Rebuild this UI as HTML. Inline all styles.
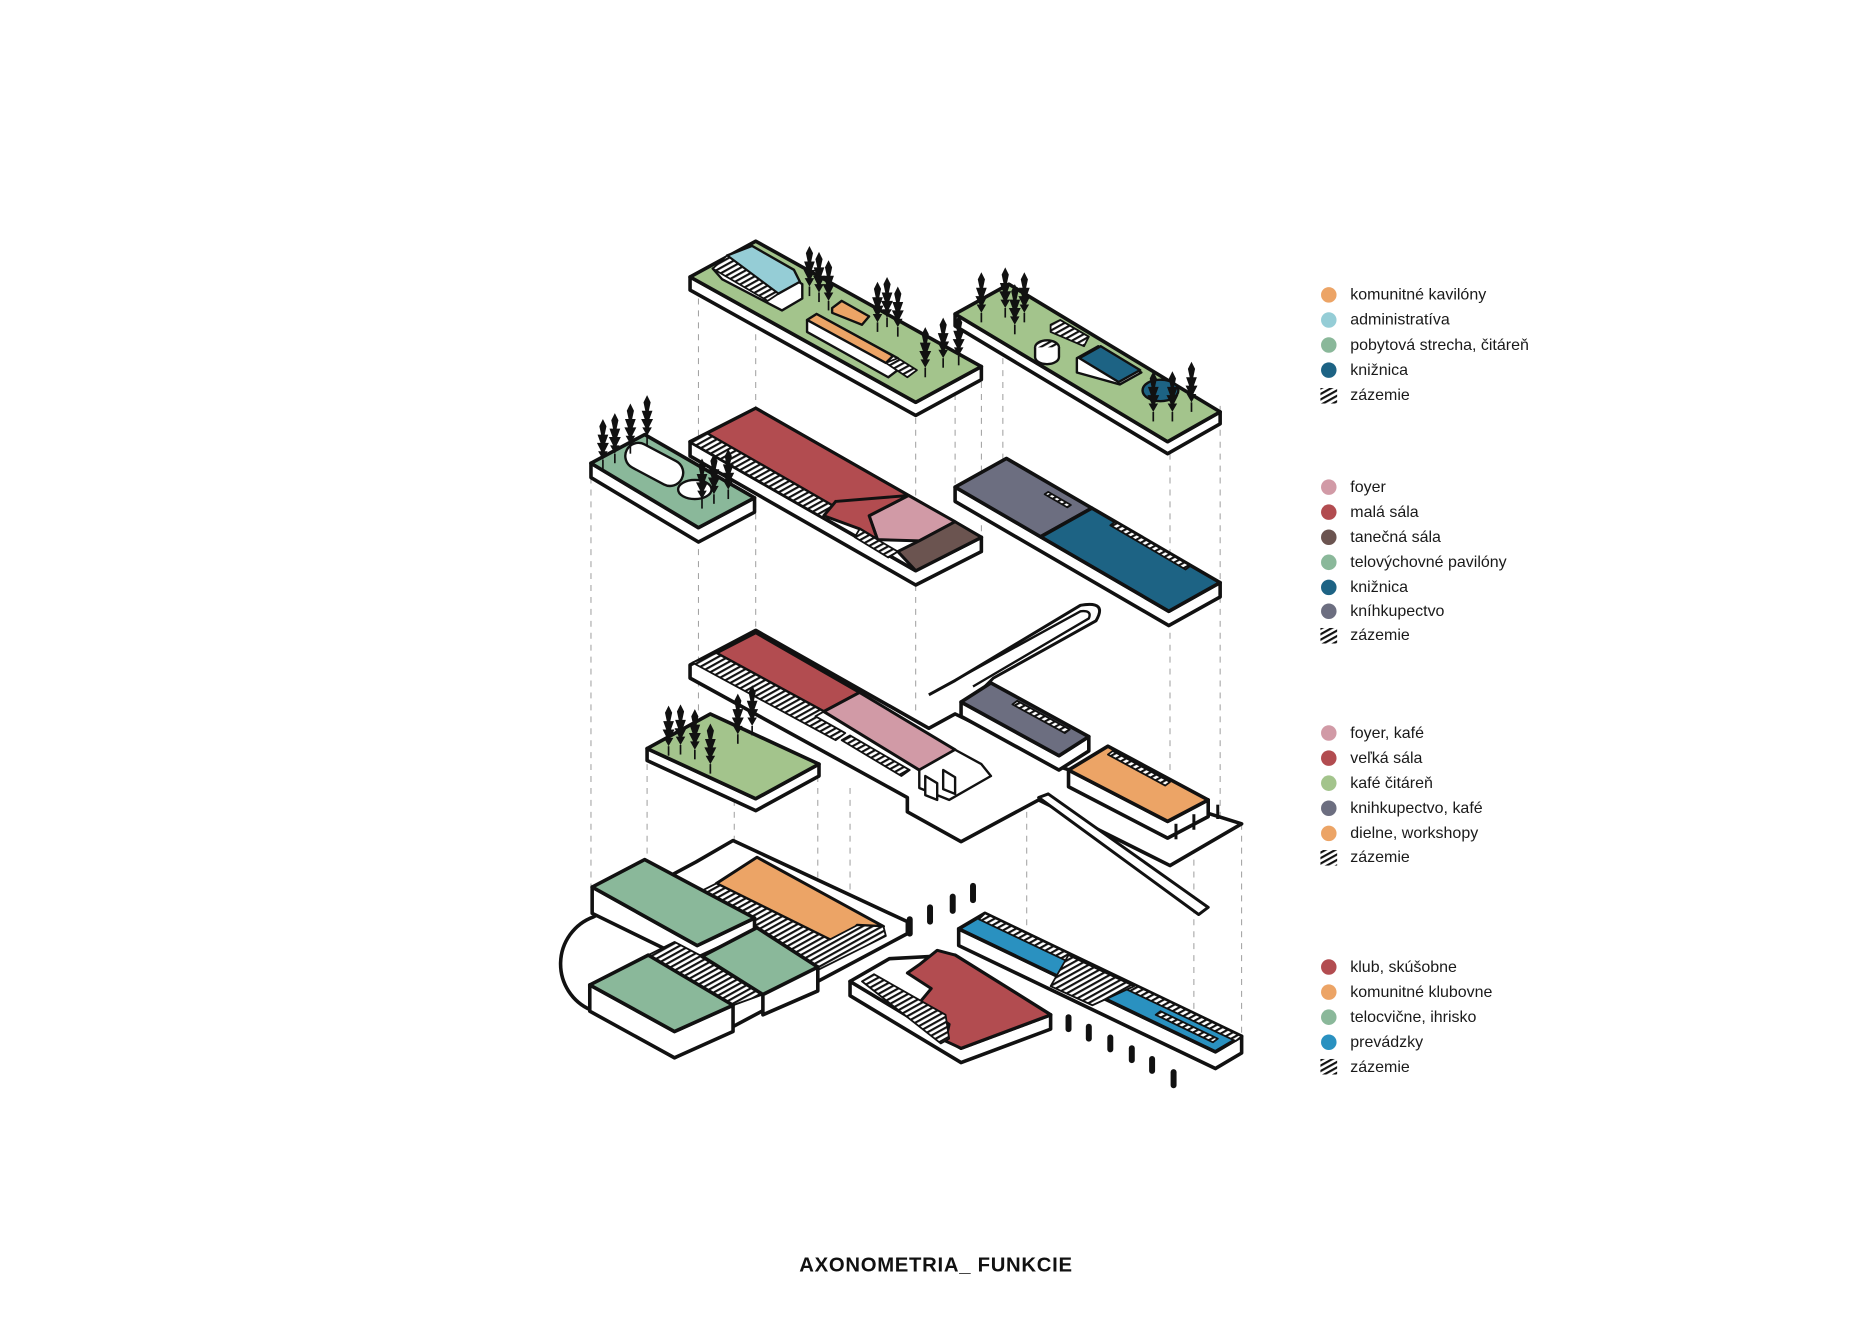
<!DOCTYPE html>
<html><head><meta charset="utf-8"><style>
html,body{margin:0;padding:0;background:#fff;}
svg{display:block;}
.t{font-family:"Liberation Sans",sans-serif;font-size:13.4px;fill:#1a1a1a;}
</style></head><body>
<svg width="1872" height="1327" viewBox="0 0 1568 1111.5" preserveAspectRatio="none" xmlns="http://www.w3.org/2000/svg">
<defs>
<pattern id="h" patternUnits="userSpaceOnUse" width="4" height="4" patternTransform="rotate(61)">
<rect width="4" height="4" fill="#fff"/><rect width="1.8" height="4" fill="#111"/></pattern>
<g id="tr"><path d="M0,0 L-4,-7 L-1.5,-7 L-5,-14 L-2,-14 L-4.5,-21 L-1.5,-21 L-3,-28 L0,-34 L3,-28 L1.5,-21 L4.5,-21 L2,-14 L5,-14 L1.5,-7 L4,-7 Z" fill="#111"/><line x1="0" y1="0" x2="0" y2="8" stroke="#111" stroke-width="1.4"/></g>
</defs>
<rect width="1568" height="1112" fill="#fff"/>
<g stroke="#999" stroke-width="0.8" stroke-dasharray="5,5" fill="none">
<line x1="495" y1="400" x2="495" y2="745"/><line x1="542" y1="630" x2="542" y2="760"/>
<line x1="585" y1="240" x2="585" y2="600"/><line x1="615" y1="660" x2="615" y2="720"/>
<line x1="633" y1="240" x2="633" y2="540"/><line x1="685" y1="640" x2="685" y2="780"/>
<line x1="712" y1="660" x2="712" y2="780"/><line x1="767" y1="340" x2="767" y2="600"/>
<line x1="800" y1="300" x2="800" y2="420"/><line x1="822" y1="310" x2="822" y2="460"/>
<line x1="840" y1="280" x2="840" y2="395"/><line x1="860" y1="670" x2="860" y2="780"/>
<line x1="980" y1="360" x2="980" y2="650"/><line x1="1000" y1="700" x2="1000" y2="870"/>
<line x1="1022" y1="340" x2="1022" y2="690"/><line x1="1040" y1="690" x2="1040" y2="870"/>
</g>
<g stroke="#111" stroke-width="3" stroke-linejoin="round">
<!-- A roof slab -->
<polygon points="578,232 767,337 822,307 822,318 767,348 578,243" fill="#fff"/>
<polygon points="578,232 633,202 822,307 767,337" fill="#a3c48c"/>
<polygon points="597,225 605,234 655,260 672,250 672,238 640,218 630,209" fill="#fff" stroke-width="2"/>
<polygon points="609,214 630,206 665,226 670,236 652,246" fill="#95cdd6" stroke-width="2"/>
<polygon points="597,225 609,214 652,246 643,252" fill="url(#h)" stroke-width="1.5"/>
<polygon points="676,268 684,263 752,300 752,310 744,316 676,278" fill="#fff" stroke-width="2"/>
<polygon points="676,268 684,263 748,298 742,304" fill="#eca466" stroke-width="2"/>
<polygon points="742,304 752,300 768,310 760,316" fill="url(#h)" stroke-width="1.5"/>
<polygon points="697,258 705,252 728,265 722,272 697,262" fill="#eca466" stroke-width="2"/>
<!-- B roof slab -->
<polygon points="800,263 978,370 1022,345 1022,355 978,380 800,273" fill="#fff"/>
<polygon points="800,263 845,238 1022,345 978,370" fill="#a3c48c"/>
<ellipse cx="877" cy="291" rx="10" ry="6" fill="url(#h)" stroke-width="2"/>
<path d="M867,291 L867,299 A10,6 0 0 0 887,299 L887,291" fill="#fff" stroke-width="2"/>
<polygon points="880,272 888,268 912,282 908,290 880,278" fill="url(#h)" stroke-width="1.5"/>
<polygon points="902,300 920,290 956,312 938,322 902,312" fill="#fff" stroke-width="2"/>
<polygon points="904,300 922,290 955,310 937,320" fill="#1d6384" stroke-width="2"/>
<ellipse cx="972" cy="327" rx="15" ry="9" fill="#1d6384" stroke-width="2"/>
<!-- C small -->
<polygon points="495,388 585,442 632,417 632,429 585,454 495,400" fill="#fff"/>
<polygon points="495,388 540,364 632,417 585,442" fill="#8ab89a"/>
<rect x="522" y="378" width="52" height="22" rx="11" fill="#fff" stroke-width="2" transform="rotate(28 548 389)"/>
<ellipse cx="582" cy="410" rx="14" ry="8" fill="#fff" stroke-width="2"/>
<!-- D -->
<polygon points="578,370 767,478 822,450 822,462 767,490 578,382" fill="#fff"/>
<polygon points="578,370 633,342 822,450 767,478" fill="#fff"/>
<polygon points="633,342 761,415 728,432 700,420 705,428 592,363" fill="#b24c50" stroke-width="2.5"/>
<polygon points="592,363 705,428 692,435 578,370" fill="url(#h)" stroke-width="1.5"/>
<polygon points="761,415 800,437 770,453 735,452 728,432" fill="#d19aa6" stroke-width="2.5"/>
<polygon points="700,420 761,415 728,432 735,452 720,443 690,432" fill="#b24c50" stroke-width="2.5"/>
<polygon points="720,443 735,452 752,462 744,467 716,450" fill="url(#h)" stroke-width="1.5"/>
<polygon points="800,437 822,450 767,478 752,462 770,453" fill="#6b5450" stroke-width="2.5"/>
<!-- E -->
<polygon points="800,408 979,512 1022,488 1022,500 979,524 800,420" fill="#fff"/>
<polygon points="843,384 914.6,425.6 871.6,449.6 800,408" fill="#6c6e80"/>
<polygon points="914.6,425.6 1022,488 979,512 871.6,449.6" fill="#1d6384"/>
<polygon points="875,414 878,412 897,423 894,425" fill="url(#h)" stroke-width="1.5"/>
<polygon points="930,440 934,437 997,474 993,477" fill="url(#h)" stroke-width="1.5"/>
<!-- Level 3 floor -->
<path d="M778,582 L800,570 L905,507 Q928,503 918,520 L832,568 L822,578" fill="#fff" stroke-width="2.5"/>
<path d="M785,578 L905,512 Q915,511 912,518 L815,575" fill="none" stroke-width="2"/>
<polygon points="578,557 633,528 778,610 800,598 835,615 880,640 1040,690 980,725 870,670 805,705 760,680 760,668 578,568" fill="#fff"/>
<polygon points="870,668 878,665 1012,760 1004,766" fill="#fff" stroke-width="2.5"/>
<polygon points="633,530 720,580 690,596 600,547" fill="#b24c50" stroke-width="2.5"/>
<polygon points="720,580 800,628 770,645 690,596" fill="#d19aa6" stroke-width="2.5"/>
<polygon points="600,547 690,596 683,600 708,614 700,620 580,555" fill="url(#h)" stroke-width="1.5"/>
<polygon points="705,620 712,616 762,645 755,650" fill="url(#h)" stroke-width="1.5"/>
<polygon points="770,645 800,628 822,640 830,650 795,670 770,660" fill="#fff" stroke-width="2"/>
<path d="M775,650 l0,16 l10,4 l0,-14 Z M790,645 l0,16 l10,4 l0,-14 Z" fill="#fff" stroke-width="2"/>
<!-- gray H -->
<polygon points="805,588 887,633 912,617 912,629 887,645 805,600" fill="#fff"/>
<polygon points="805,588 830,572 912,617 887,633" fill="#6c6e80"/>
<polygon points="848,590 852,587 896,611 892,614" fill="url(#h)" stroke-width="1.5"/>
<!-- orange I -->
<polygon points="895,645 978,688 1012,670 1012,684 978,702 895,659" fill="#fff"/>
<polygon points="895,645 928,625 1012,670 978,688" fill="#eca466"/>
<polygon points="928,632 932,629 980,655 976,658" fill="url(#h)" stroke-width="1.5"/>
<line x1="985" y1="690" x2="985" y2="703" stroke-width="2.5"/><line x1="1000" y1="682" x2="1000" y2="695" stroke-width="2.5"/><line x1="1020" y1="674" x2="1020" y2="686" stroke-width="2.5"/>
<!-- green G -->
<polygon points="542,627 633,669 686,640 686,650 633,679 542,637" fill="#fff"/>
<polygon points="542,627 595,598 686,640 633,669" fill="#a3c48c"/>
<!-- Level 4 left -->
<path d="M497,768 A42,42 0 0 0 495,846 L565,886 L760,782 L760,772 L614,704 L583,722 Z" fill="#fff"/>
<polygon points="600,740 634,718 740,776 718,775 705,790 695,787" fill="#eca466" stroke-width="2.5"/>
<polygon points="590,745 600,740 695,787 718,775 740,776 742,784 686,812 634,788 600,768" fill="url(#h)" stroke-width="1.5"/>
<polygon points="496,743 584,792 632,769 632,780 584,802 584,808 496,765" fill="#fff"/>
<polygon points="496,743 540,720 632,769 584,792" fill="#8ab89a"/>
<polygon points="565,789 588,801 639,833 614,842 543,800" fill="url(#h)" stroke-width="1.5"/>
<polygon points="588,801 639,833 685,810 685,830 639,850 639,833" fill="#fff"/>
<polygon points="588,801 634,777 685,810 639,833" fill="#8ab89a"/>
<polygon points="494,825 565,864 614,842 614,864 565,886 494,847" fill="#fff"/>
<polygon points="494,825 543,800 614,842 565,864" fill="#8ab89a"/>
<!-- Level 4 red -->
<polygon points="712,822 805,878 880,850 880,862 805,890 712,834" fill="#fff"/>
<polygon points="712,822 745,803 800,800 880,850 805,878" fill="#fff"/>
<polygon points="770,808 785,796 800,800 880,850 805,878 792,872 795,858 770,840 780,828 760,815" fill="#b24c50" stroke-width="2.5"/>
<polygon points="722,822 732,816 792,850 795,870 788,874" fill="url(#h)" stroke-width="1.5"/>
<!-- blue strip -->
<polygon points="803,778 1018,881 1040,868 1040,882 1018,895 803,792" fill="#fff"/>
<polygon points="803,778 825,765 1040,868 1018,881" fill="#2a91c0"/>
<polygon points="825,765 1040,868 1035,872 820,770" fill="url(#h)" stroke-width="1.5"/>
<polygon points="895,800 920,812 950,826 915,842 880,826" fill="url(#h)" stroke-width="1.5"/>
<polygon points="968,850 972,847 1020,870 1016,873" fill="url(#h)" stroke-width="1.5"/>
</g>
<g stroke="#111" stroke-width="5" stroke-linecap="round">
<line x1="762" y1="770" x2="762" y2="782"/><line x1="779" y1="760" x2="779" y2="772"/><line x1="798" y1="751" x2="798" y2="763"/><line x1="815" y1="742" x2="815" y2="754"/>
<line x1="895" y1="852" x2="895" y2="862"/><line x1="912" y1="860" x2="912" y2="870"/><line x1="930" y1="869" x2="930" y2="879"/><line x1="948" y1="878" x2="948" y2="888"/><line x1="965" y1="887" x2="965" y2="897"/><line x1="983" y1="898" x2="983" y2="909"/>
</g>
<g>
<use href="#tr" x="678" y="240"/><use href="#tr" x="686" y="245"/><use href="#tr" x="694" y="252"/><use href="#tr" x="735" y="270"/><use href="#tr" x="743" y="266"/><use href="#tr" x="752" y="274"/>
<use href="#tr" x="775" y="308"/><use href="#tr" x="790" y="300"/><use href="#tr" x="803" y="298"/>
<use href="#tr" x="822" y="262"/><use href="#tr" x="842" y="258"/><use href="#tr" x="858" y="262"/><use href="#tr" x="850" y="272"/>
<use href="#tr" x="966" y="345"/><use href="#tr" x="982" y="345"/><use href="#tr" x="998" y="337"/>
<use href="#tr" x="505" y="385"/><use href="#tr" x="515" y="380"/><use href="#tr" x="528" y="372"/><use href="#tr" x="542" y="365"/>
<use href="#tr" x="588" y="418"/><use href="#tr" x="598" y="414"/><use href="#tr" x="610" y="410"/>
<use href="#tr" x="560" y="625"/><use href="#tr" x="570" y="624"/><use href="#tr" x="582" y="628"/><use href="#tr" x="595" y="640"/><use href="#tr" x="618" y="615"/><use href="#tr" x="630" y="608"/>
</g>
<g class="t">
<circle cx="1113" cy="247" r="6.5" fill="#eca466"/><text x="1131" y="251">komunitné kavilóny</text>
<circle cx="1113" cy="268" r="6.5" fill="#95cdd6"/><text x="1131" y="272">administratíva</text>
<circle cx="1113" cy="289" r="6.5" fill="#8ab89a"/><text x="1131" y="293">pobytová strecha, čitáreň</text>
<circle cx="1113" cy="310" r="6.5" fill="#1d6384"/><text x="1131" y="314">knižnica</text>
<rect x="1106" y="325" width="14" height="13" fill="url(#h)"/><text x="1131" y="335">zázemie</text>
<circle cx="1113" cy="408" r="6.5" fill="#d19aa6"/><text x="1131" y="412">foyer</text>
<circle cx="1113" cy="429" r="6.5" fill="#b24c50"/><text x="1131" y="433">malá sála</text>
<circle cx="1113" cy="450" r="6.5" fill="#6b5450"/><text x="1131" y="454">tanečná sála</text>
<circle cx="1113" cy="471" r="6.5" fill="#8ab89a"/><text x="1131" y="475">telovýchovné pavilóny</text>
<circle cx="1113" cy="492" r="6.5" fill="#1d6384"/><text x="1131" y="496">knižnica</text>
<circle cx="1113" cy="512" r="6.5" fill="#6c6e80"/><text x="1131" y="516">kníhkupectvo</text>
<rect x="1106" y="526" width="14" height="13" fill="url(#h)"/><text x="1131" y="536">zázemie</text>
<circle cx="1113" cy="614" r="6.5" fill="#d19aa6"/><text x="1131" y="618">foyer, kafé</text>
<circle cx="1113" cy="635" r="6.5" fill="#b24c50"/><text x="1131" y="639">veľká sála</text>
<circle cx="1113" cy="656" r="6.5" fill="#a3c48c"/><text x="1131" y="660">kafé čitáreň</text>
<circle cx="1113" cy="677" r="6.5" fill="#6c6e80"/><text x="1131" y="681">knihkupectvo, kafé</text>
<circle cx="1113" cy="698" r="6.5" fill="#eca466"/><text x="1131" y="702">dielne, workshopy</text>
<rect x="1106" y="712" width="14" height="13" fill="url(#h)"/><text x="1131" y="722">zázemie</text>
<circle cx="1113" cy="810" r="6.5" fill="#b24c50"/><text x="1131" y="814">klub, skúšobne</text>
<circle cx="1113" cy="831" r="6.5" fill="#eca466"/><text x="1131" y="835">komunitné klubovne</text>
<circle cx="1113" cy="852" r="6.5" fill="#8ab89a"/><text x="1131" y="856">telocvične, ihrisko</text>
<circle cx="1113" cy="873" r="6.5" fill="#2a91c0"/><text x="1131" y="877">prevádzky</text>
<rect x="1106" y="887" width="14" height="13" fill="url(#h)"/><text x="1131" y="898">zázemie</text>
</g>
<text x="784" y="1065" text-anchor="middle" font-family="Liberation Sans, sans-serif" font-weight="bold" font-size="17" letter-spacing="0.6" fill="#111">AXONOMETRIA_ FUNKCIE</text>
</svg>
</body></html>
